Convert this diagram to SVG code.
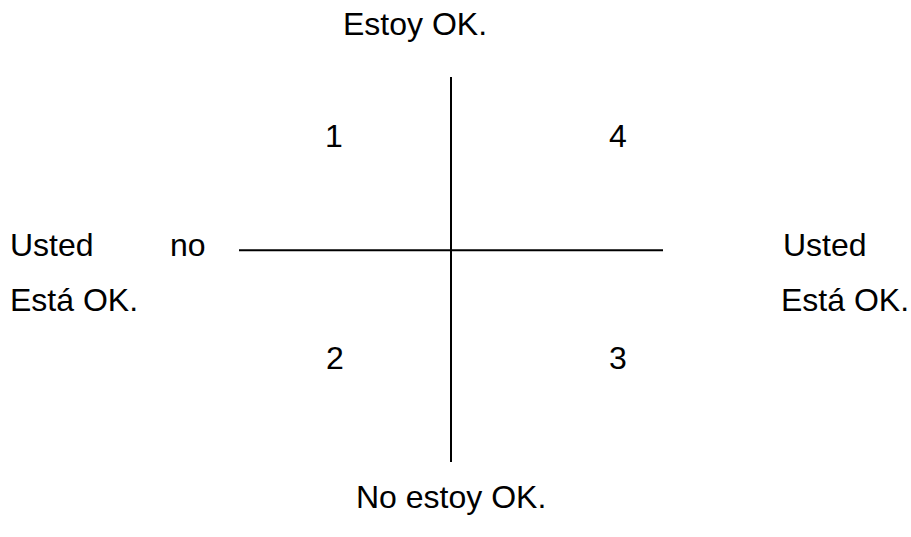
<svg xmlns="http://www.w3.org/2000/svg" width="911" height="537" viewBox="0 0 911 537">
<style>
text{font-family:"Liberation Sans",Arial,sans-serif;font-size:32px;fill:#000}
.ax{stroke:#000;stroke-width:2;fill:none}
</style>
<rect width="911" height="537" fill="#fff"/>
<g id="connectors">
<line class="ax" x1="451" y1="77" x2="451" y2="462"/>
<line class="ax" x1="239" y1="250.3" x2="663" y2="250.3"/>
</g>
<g id="top"><text x="343" y="35">Estoy OK.</text></g>
<g id="bottom"><text x="356" y="508">No estoy OK.</text></g>
<g id="left"><text x="10" y="256">Usted</text><text x="170" y="256">no</text><text x="10" y="311">Está OK.</text></g>
<g id="right"><text x="783" y="256">Usted</text><text x="781" y="311">Está OK.</text></g>
<g id="q1"><text x="325" y="147">1</text></g>
<g id="q4"><text x="609" y="147">4</text></g>
<g id="q2"><text x="326" y="369">2</text></g>
<g id="q3"><text x="609" y="369">3</text></g>
</svg>
